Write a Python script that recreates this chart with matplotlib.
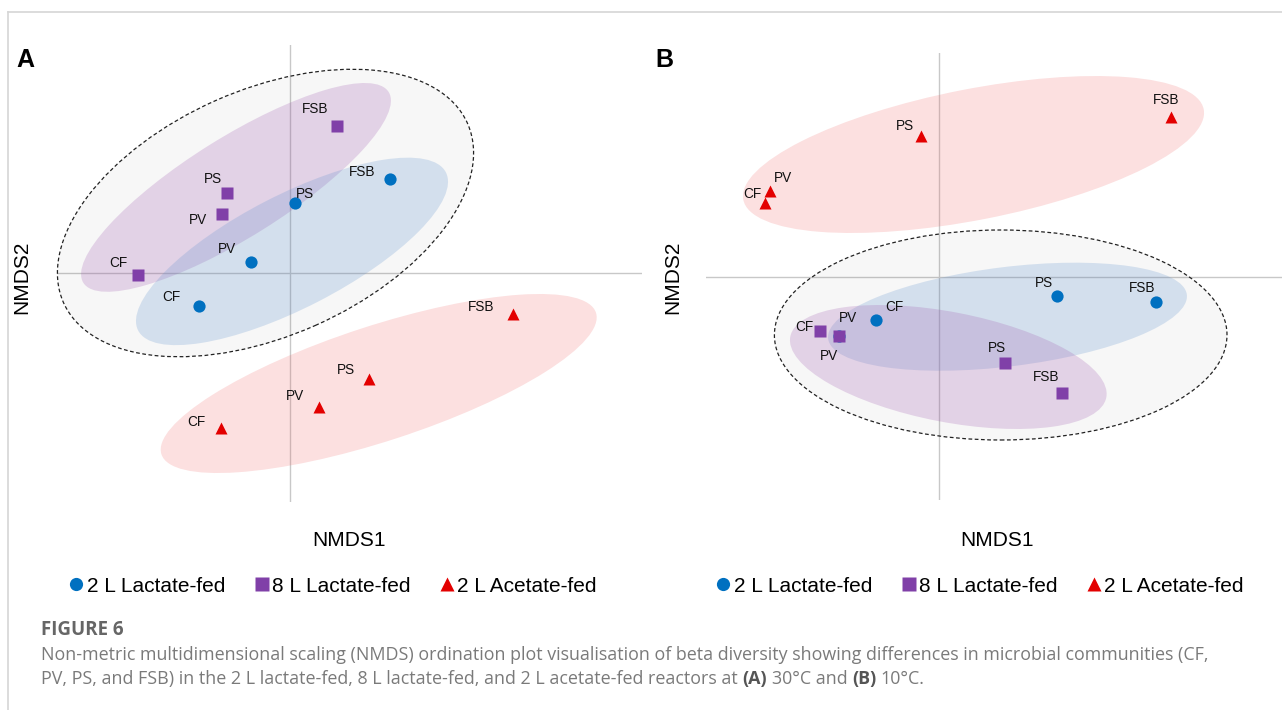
import matplotlib
matplotlib.use("Agg")
import matplotlib.pyplot as plt
from matplotlib.patches import Ellipse
from matplotlib.lines import Line2D

W, H = 1282, 710

sites = ["CF", "PV", "PS", "FSB"]
groups = ["2 L Lactate-fed", "8 L Lactate-fed", "2 L Acetate-fed"]

# Panel A (30 C) NMDS scores, order = sites
a_lac2_x = [-0.455, -0.195, 0.025, 0.500]
a_lac2_y = [-0.165, 0.057, 0.349, 0.470]
a_lac8_x = [-0.759, -0.342, -0.317, 0.234]
a_lac8_y = [-0.010, 0.294, 0.402, 0.737]
a_ace2_x = [-0.347, 0.147, 0.397, 1.117]
a_ace2_y = [-0.777, -0.672, -0.530, -0.205]

# Panel B (10 C)
b_lac2_x = [-0.315, -0.500, 0.589, 1.084]
b_lac2_y = [-0.215, -0.297, -0.095, -0.127]
b_lac8_x = [-0.594, -0.500, 0.330, 0.617]
b_lac8_y = [-0.269, -0.297, -0.432, -0.579]
b_ace2_x = [-0.871, -0.845, -0.090, 1.160]
b_ace2_y = [0.372, 0.432, 0.705, 0.799]

# ellipses: centre x, centre y, width, height, angle
a_ell_all = (-0.1225, 0.300, 2.21, 1.23, 23.9)
a_ell_lac8 = (-0.270, 0.428, 1.80, 0.50, 32.0)
a_ell_lac2 = (0.010, 0.108, 1.73, 0.566, 27.2)
a_ell_ace2 = (0.4435, -0.5525, 2.285, 0.576, 18.05)

b_ell_all = (0.3085, -0.290, 2.263, 1.05, 0.0)
b_ell_lac2 = (0.3425, -0.1985, 1.807, 0.497, 7.0)
b_ell_lac8 = (0.0465, -0.450, 1.609, 0.55, -10.9)
b_ell_ace2 = (0.1725, 0.6125, 2.346, 0.654, 11.1)

# styling
COL_LAC2 = "#0070C0"
COL_LAC8 = "#8040A8"
COL_ACE2 = "#E30000"
FILL_LAC2 = ((95/255, 145/255, 205/255), 0.23)
FILL_LAC8 = ((165/255, 100/255, 180/255), 0.25)
FILL_ACE2 = ((240/255, 100/255, 100/255), 0.20)
MARK = {"lac2": "o", "lac8": "s", "ace2": "^"}
FONT = "Liberation Sans"
CAP_FONT = "Open Sans"

# label offsets in pixels (dx right, dy down)
a_off = {
    "lac2": [(-28, -9), (-24, -13), (10, -9), (-28, -7)],
    "lac8": [(-20, -12), (-24, 6), (-14, -14), (-22, -17)],
    "ace2": [(-24, -6), (-24, -11), (-23, -9), (-32, -7)],
}
b_off = {
    "lac2": [(18, -13), (9, -18), (-13, -13), (-14, -14)],
    "lac8": [(-16, -4), (-10, 20), (-8, -15), (-16, -16)],
    "ace2": [(-12, -9), (13, -13), (-16, -10), (-5, -17)],
}

plt.rcParams["font.family"] = FONT
fig = plt.figure(figsize=(W / 100, H / 100), dpi=100)


def px_axes(x0, y0, x1, y1):
    return fig.add_axes([x0 / W, 1 - y1 / H, (x1 - x0) / W, (y1 - y0) / H])


def add_ellipse(ax, e, face, alpha, z, edge="none", ls="-"):
    el = Ellipse((e[0], e[1]), e[2], e[3], angle=e[4], facecolor=face,
                 alpha=alpha, edgecolor="none", zorder=z, clip_on=False)
    ax.add_patch(el)
    if edge != "none":
        ax.add_patch(Ellipse((e[0], e[1]), e[2], e[3], angle=e[4],
                             facecolor="none", edgecolor=edge, lw=0.9,
                             ls=ls, zorder=z + 0.1, clip_on=False))


def draw_panel(ax, data, offs, ells, order):
    ax.axhline(0, color="#c8c8c8", lw=1, zorder=1)
    ax.axvline(0, color="#c8c8c8", lw=1, zorder=1)
    add_ellipse(ax, ells["all"], "black", 0.03, 1.5, edge="#222222",
                ls=(0, (3, 2)))
    fills = {"lac2": FILL_LAC2, "lac8": FILL_LAC8, "ace2": FILL_ACE2}
    for i, g in enumerate(order):
        add_ellipse(ax, ells[g], fills[g][0], fills[g][1], 2 + i * 0.2)
    cols = {"lac2": COL_LAC2, "lac8": COL_LAC8, "ace2": COL_ACE2}
    for k, g in enumerate(["lac2", "lac8", "ace2"]):
        xs, ys = data[g]
        ax.plot(xs, ys, ls="none", marker=MARK[g], ms=8.8, color=cols[g],
                mec="none", zorder=4 + k * 0.1, clip_on=False)
        for s, x, y, (dx, dy) in zip(sites, xs, ys, offs[g]):
            ax.annotate(s, (x, y), xytext=(dx, -dy), textcoords="offset pixels",
                        ha="center", va="center", fontsize=9.8,
                        color="#111111", zorder=6)
    ax.set_axis_off()


# panel A: pixel extent of crosshair, 200 px per unit
axA = px_axes(57, 45, 642, 502)
axA.set_xlim((57 - 290) / 200, (642 - 290) / 200)
axA.set_ylim((273 - 502) / 200, (273 - 45) / 200)
draw_panel(axA,
           {"lac2": (a_lac2_x, a_lac2_y), "lac8": (a_lac8_x, a_lac8_y),
            "ace2": (a_ace2_x, a_ace2_y)},
           a_off,
           {"all": a_ell_all, "lac2": a_ell_lac2, "lac8": a_ell_lac8,
            "ace2": a_ell_ace2},
           ["ace2", "lac8", "lac2"])

axB = px_axes(706, 53, 1282, 500)
axB.set_xlim((706 - 939) / 200, (1282 - 939) / 200)
axB.set_ylim((277 - 500) / 200, (277 - 53) / 200)
draw_panel(axB,
           {"lac2": (b_lac2_x, b_lac2_y), "lac8": (b_lac8_x, b_lac8_y),
            "ace2": (b_ace2_x, b_ace2_y)},
           b_off,
           {"all": b_ell_all, "lac2": b_ell_lac2, "lac8": b_ell_lac8,
            "ace2": b_ell_ace2},
           ["ace2", "lac2", "lac8"])

# panel letters and axis titles
for x, lab in [(25, "A"), (664, "B")]:
    fig.text(x / W, 1 - 60 / H, lab, fontsize=18, fontweight="bold",
             ha="center", va="center")
for x in (349, 997):
    fig.text(x / W, 1 - 540 / H, "NMDS1", fontsize=15, ha="center", va="center")
for x in (22, 673):
    fig.text(x / W, 1 - 277 / H, "NMDS2", fontsize=15, rotation=90,
             ha="center", va="center")

# legends
handles = [
    Line2D([], [], ls="none", marker="o", ms=9.5, color=COL_LAC2, mec="none"),
    Line2D([], [], ls="none", marker="s", ms=9.5, color=COL_LAC8, mec="none"),
    Line2D([], [], ls="none", marker="^", ms=9.5, color=COL_ACE2, mec="none"),
]
for cx in (333, 980):
    fig.legend(handles, groups, loc="center", ncol=3, frameon=False,
               bbox_to_anchor=(cx / W, 1 - 586 / H), fontsize=15,
               handlelength=0.7, handletextpad=0.15, columnspacing=1.4,
               borderpad=0, borderaxespad=0)

# page frame lines
fig.add_artist(Line2D([8 / W, 1], [1 - 12 / H] * 2, color="#d6d6d6", lw=1.2,
                      transform=fig.transFigure))
fig.add_artist(Line2D([8 / W, 8 / W], [0, 1 - 12 / H], color="#d6d6d6", lw=1.2,
                      transform=fig.transFigure))

# caption
fig.text(41 / W, 1 - 630 / H, "FIGURE 6", fontsize=13.5, fontweight="bold",
         color="#666666", family=CAP_FONT, ha="left", va="center")
cap_kw = dict(fontsize=12.9, color="#7a7a7a", family=CAP_FONT, va="center")
line1 = ("Non-metric multidimensional scaling (NMDS) ordination plot "
         "visualisation of beta diversity showing differences in microbial "
         "communities (CF,")
fig.text(41 / W, 1 - 655 / H, line1, ha="left", **cap_kw)

fig.canvas.draw()
rend = fig.canvas.get_renderer()


def text_w(s, **kw):
    t = fig.text(0, 0, s, **kw)
    w = t.get_window_extent(rend).width
    t.remove()
    return w


space = text_w("a a", **cap_kw) - text_w("aa", **cap_kw)
segs = [("PV, PS, and FSB) in the 2 L lactate-fed, 8 L lactate-fed, and 2 L "
         "acetate-fed reactors at", False), ("(A)", True), ("30°C and", False),
        ("(B)", True), ("10°C.", False)]
x = 41
for s, bold in segs:
    kw = dict(cap_kw)
    if bold:
        kw["fontweight"] = "bold"
        kw["color"] = "#555555"
    t = fig.text(x / W, 1 - 679 / H, s, ha="left", **kw)
    x += t.get_window_extent(rend).width + space

fig.savefig("out.png", dpi=100)
